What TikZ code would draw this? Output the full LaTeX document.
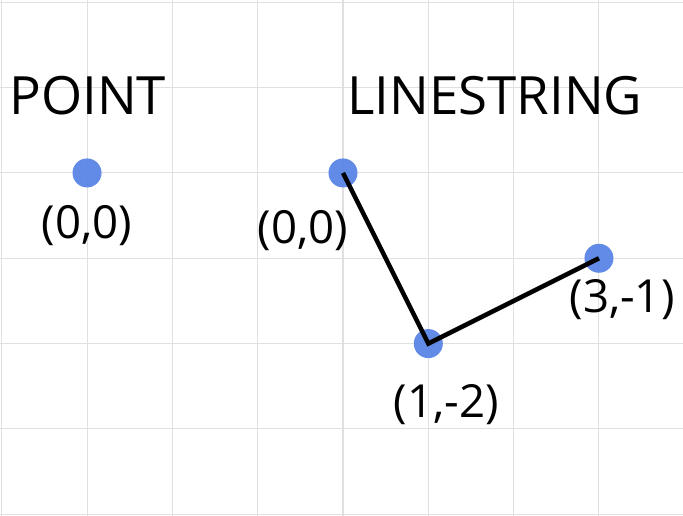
\documentclass[tikz,border=0pt]{standalone}
\usepackage{fontspec}
\setmainfont{Open Sans}
\usepackage{xcolor}
\definecolor{dotblue}{HTML}{5A84E6}
\definecolor{gridgray}{HTML}{E0E0E0}

\begin{document}
\begin{tikzpicture}[
		vertex/.style={circle,fill=dotblue,fill opacity=0.95,inner sep=0pt,minimum size=0.34cm},
		title/.style={font=\fontsize{17.6}{21}\selectfont},
		coord/.style={font=\fontsize{15.2}{18}\selectfont},
		segment/.style={line width=1.5pt,line join=miter}
	]
			% background and grid
			\useasboundingbox (-1.02,-4.02) rectangle (6.985,2.027);
			\fill[white] (-1.02,-4.02) rectangle (6.985,2.027);
			\draw[gridgray,line width=0.35pt] (-1.02,-4.02) grid (6.985,2.027);

			% point
			\node[title] (pointtitle) at (0.01,0.91) {POINT};
			\node[vertex] (p0) at (0,0) {};
			\node[coord] (p0label) at (0,-0.62) {(0,0)};

			% linestring
			\node[title] (linetitle) at (4.78,0.91) {LINESTRING};
			\node[vertex] (l0) at (3,0) {};
			\node[vertex] (l1) at (4,-2) {};
			\node[vertex] (l2) at (6,-1) {};
			\draw[segment] (l0.center) -- (l1.center) -- (l2.center);
			\node[coord] (l0label) at (2.53,-0.67) {(0,0)};
			\node[coord] (l1label) at (4.21,-2.71) {(1,-2)};
			\node[coord] (l2label) at (6.27,-1.48) {(3,-1)};
		\end{tikzpicture}
\end{document}
